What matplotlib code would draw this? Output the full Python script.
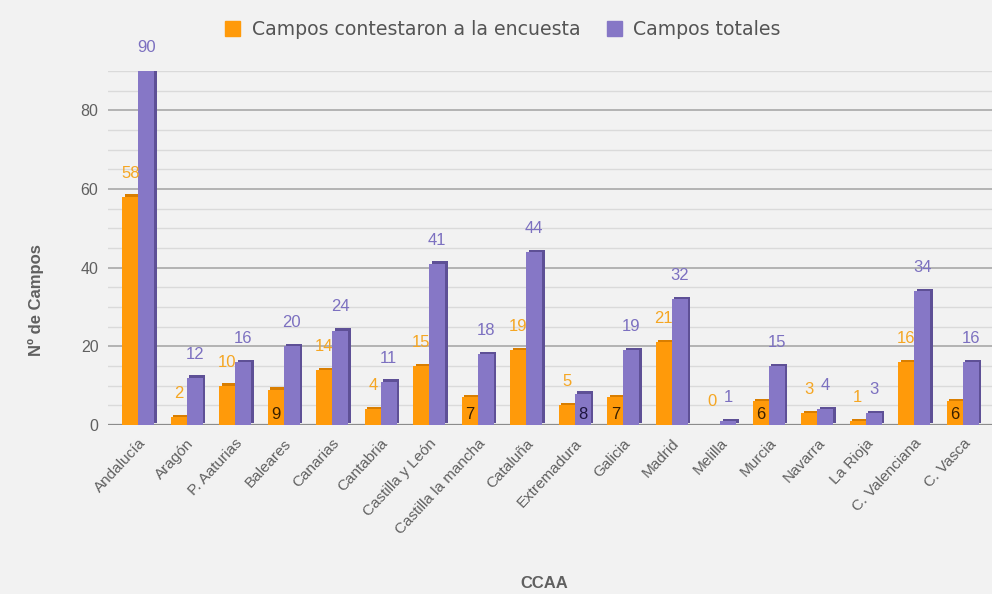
import numpy as np
import matplotlib.pyplot as plt
from matplotlib.patches import Patch

categories = ['Andalucía', 'Aragón', 'P. Aaturias', 'Baleares', 'Canarias', 'Cantabria',
              'Castilla y León', 'Castilla la mancha', 'Cataluña', 'Extremadura', 'Galicia',
              'Madrid', 'Melilla', 'Murcia', 'Navarra', 'La Rioja', 'C. Valenciana', 'C. Vasca']
contestaron = [58, 2, 10, 9, 14, 4, 15, 7, 19, 5, 7, 21, 0, 6, 3, 1, 16, 6]
totales = [90, 12, 16, 20, 24, 11, 41, 18, 44, 8, 19, 32, 1, 15, 4, 3, 34, 16]
# labels drawn inside the bar instead of above it
inside_orange = ['Baleares', 'Castilla la mancha', 'Galicia', 'Murcia', 'C. Vasca']
inside_purple = ['Extremadura']

ORANGE = '#FF9A0A'
ORANGE_SIDE = '#D97E00'
PURPLE = '#8677C6'
PURPLE_SIDE = '#5E5096'
BG = '#F2F2F2'
TXT = '#606060'

fig = plt.figure(figsize=(9.92, 5.94), dpi=100, facecolor=BG)
ax = fig.add_axes([0.109, 0.2845, 0.891, 0.596], facecolor=BG)

x = np.arange(len(categories))
w = 0.33
depth = 0.05

# grid
for v in np.arange(5, 91, 5):
    major = v % 20 == 0
    ax.axhline(v, color='#A8A8A8' if major else '#DADADA', lw=1.2 if major else 1.0, zorder=0)
ax.axhline(0, color='#8C8C8C', lw=1.6, zorder=0)

# pseudo 3D sides, then faces
ax.bar(x - w / 2 + depth, contestaron, w, bottom=0.6, color=ORANGE_SIDE, zorder=2)
ax.bar(x - w / 2, contestaron, w, color=ORANGE, zorder=3)
ax.bar(x + w / 2 + depth, totales, w, bottom=0.6, color=PURPLE_SIDE, zorder=2)
ax.bar(x + w / 2, totales, w, color=PURPLE, zorder=3)

for i, c in enumerate(categories):
    if c in inside_orange:
        ax.text(i - w / 2, 0.8, str(contestaron[i]), ha='center', va='bottom',
                color='#3A2000', fontsize=12, family='Liberation Sans', zorder=5)
    else:
        ax.annotate(str(contestaron[i]), (i - w / 2, contestaron[i]), xytext=(0, 17),
                    textcoords='offset points', ha='center', va='center',
                    color='#F5A623', fontsize=12, family='Liberation Sans', zorder=5)
    if c in inside_purple:
        ax.text(i + w / 2, 0.8, str(totales[i]), ha='center', va='bottom',
                color='#1E1540', fontsize=12, family='Liberation Sans', zorder=5)
    else:
        ax.annotate(str(totales[i]), (i + w / 2, totales[i]), xytext=(0, 17),
                    textcoords='offset points', ha='center', va='center',
                    color='#7C70C0', fontsize=12, family='Liberation Sans', zorder=5)

ax.set_xlim(-0.62, 17.6)
ax.set_ylim(0, 90)
ax.set_yticks([0, 20, 40, 60, 80])
ax.set_xticks(x)
ax.set_xticklabels(categories, rotation=47, ha='right', rotation_mode='anchor',
                   fontsize=11, color=TXT, family='Liberation Sans')
ax.tick_params(axis='y', labelsize=11.5, colors=TXT, length=0, pad=7)
ax.tick_params(axis='x', length=0, pad=8)
for lab in ax.get_yticklabels():
    lab.set_family('Liberation Sans')
for s in ax.spines.values():
    s.set_visible(False)

fig.text(0.036, 0.495, 'Nº de Campos', rotation=90, ha='center', va='center',
         fontsize=12, fontweight='bold', color=TXT, family='Liberation Sans')
fig.text(0.549, 0.018, 'CCAA', ha='center', va='center',
         fontsize=12, fontweight='bold', color=TXT, family='Liberation Sans')

handles = [Patch(color=ORANGE), Patch(color=PURPLE)]
fig.legend(handles, ['Campos contestaron a la encuesta', 'Campos totales'],
           loc='center', bbox_to_anchor=(0.507, 0.95), ncol=2, frameon=False,
           fontsize=13.6, handlelength=0.8, handleheight=0.8, columnspacing=1.4,
           handletextpad=0.6, labelcolor='#555555')

fig.savefig('out.png', dpi=100, facecolor=BG)
